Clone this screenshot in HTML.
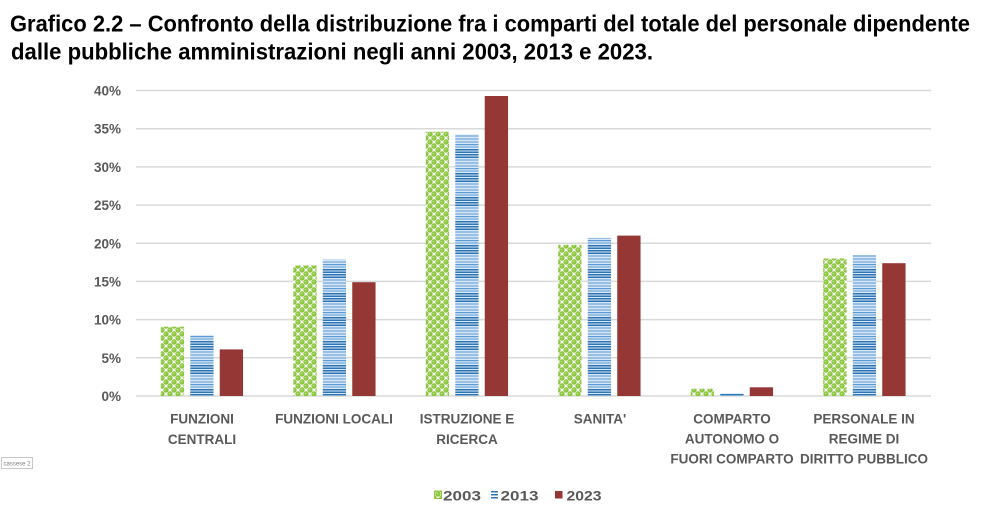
<!DOCTYPE html>
<html>
<head>
<meta charset="utf-8">
<style>
  html, body { margin:0; padding:0; background:#ffffff; }
  body { width:993px; height:518px; overflow:hidden; }
  svg { display:block; }
  .t { font-family:"Liberation Sans", Arial, sans-serif; font-weight:bold; }
</style>
</head>
<body>
<svg width="993" height="518" viewBox="0 0 993 518" xmlns="http://www.w3.org/2000/svg">
  <defs>
    <pattern id="pg" patternUnits="userSpaceOnUse" width="8" height="8">
      <rect width="8" height="8" fill="#ffffff"/>
      <circle cx="2" cy="2" r="2.7" fill="#8cc63f"/>
      <circle cx="6" cy="6" r="2.7" fill="#8cc63f"/>
      <circle cx="10" cy="2" r="2.7" fill="#8cc63f"/>
      <circle cx="-2" cy="6" r="2.7" fill="#8cc63f"/>
      <circle cx="2" cy="10" r="2.7" fill="#8cc63f"/>
      <circle cx="6" cy="-2" r="2.7" fill="#8cc63f"/>
      <circle cx="1.5" cy="1.5" r="0.9" fill="#b9e08a"/>
      <circle cx="5.5" cy="5.5" r="0.9" fill="#b9e08a"/>
    </pattern>
    <pattern id="pb" patternUnits="userSpaceOnUse" width="30" height="24">
      <rect width="30" height="24" fill="#d6e6f5"/>
      <rect y="0" width="30" height="1.2" fill="#5b9bd5"/>
      <rect y="2.5" width="30" height="1" fill="#5b9bd5"/>
      <rect y="5" width="30" height="1.5" fill="#2e75b6"/>
      <rect y="7.5" width="30" height="1.5" fill="#2e75b6"/>
      <rect y="10" width="30" height="1.5" fill="#2e75b6"/>
      <rect y="12.5" width="30" height="1.5" fill="#2e75b6"/>
      <rect y="15.5" width="30" height="1" fill="#5b9bd5"/>
      <rect y="18.5" width="30" height="1" fill="#5b9bd5"/>
      <rect y="21.5" width="30" height="1" fill="#5b9bd5"/>
    </pattern>
  </defs>

  <!-- Title -->
  <text class="t" x="10" y="31.5" font-size="23" fill="#000" textLength="960" lengthAdjust="spacingAndGlyphs">Grafico 2.2 – Confronto della distribuzione fra i comparti del totale del personale dipendente</text>
  <text class="t" x="11" y="59.5" font-size="23" fill="#000" textLength="642" lengthAdjust="spacingAndGlyphs">dalle pubbliche amministrazioni negli anni 2003, 2013 e 2023.</text>

  <!-- Gridlines -->
  <g stroke="#d9d9d9" stroke-width="1.5">
    <line x1="136" y1="90.5" x2="931" y2="90.5"/>
    <line x1="136" y1="128.7" x2="931" y2="128.7"/>
    <line x1="136" y1="166.9" x2="931" y2="166.9"/>
    <line x1="136" y1="205.1" x2="931" y2="205.1"/>
    <line x1="136" y1="243.3" x2="931" y2="243.3"/>
    <line x1="136" y1="281.4" x2="931" y2="281.4"/>
    <line x1="136" y1="319.6" x2="931" y2="319.6"/>
    <line x1="136" y1="357.8" x2="931" y2="357.8"/>
    <line x1="136" y1="396" x2="931" y2="396"/>
  </g>

  <!-- Y labels -->
  <g class="t" font-size="13.5" fill="#595959" text-anchor="end">
    <text x="121" y="95.5">40%</text>
    <text x="121" y="133.7">35%</text>
    <text x="121" y="171.9">30%</text>
    <text x="121" y="210.1">25%</text>
    <text x="121" y="248.3">20%</text>
    <text x="121" y="286.4">15%</text>
    <text x="121" y="324.6">10%</text>
    <text x="121" y="362.8">5%</text>
    <text x="121" y="401">0%</text>
  </g>

  <!-- Group 1 -->
  <rect x="160.75" y="326.7" width="23.3" height="69.3" fill="url(#pg)"/>
  <rect x="190.25" y="334.9" width="23.3" height="61.1" fill="url(#pb)"/>
  <rect x="219.75" y="349.4" width="23.3" height="46.6" fill="#943735"/>
  <!-- Group 2 -->
  <rect x="293.25" y="265.4" width="23.3" height="130.6" fill="url(#pg)"/>
  <rect x="322.75" y="259.3" width="23.3" height="136.7" fill="url(#pb)"/>
  <rect x="352.25" y="282.2" width="23.3" height="113.8" fill="#943735"/>
  <!-- Group 3 -->
  <rect x="425.75" y="131.7" width="23.3" height="264.3" fill="url(#pg)"/>
  <rect x="455.25" y="134.4" width="23.3" height="261.6" fill="url(#pb)"/>
  <rect x="484.75" y="96" width="23.3" height="300" fill="#943735"/>
  <!-- Group 4 -->
  <rect x="558.25" y="244.8" width="23.3" height="151.2" fill="url(#pg)"/>
  <rect x="587.75" y="237.9" width="23.3" height="158.1" fill="url(#pb)"/>
  <rect x="617.25" y="235.6" width="23.3" height="160.4" fill="#943735"/>
  <!-- Group 5 -->
  <rect x="690.75" y="388.7" width="23.3" height="7.3" fill="url(#pg)"/>
  <rect x="720.25" y="393.3" width="23.3" height="2.7" fill="url(#pb)"/>
  <rect x="749.75" y="387.3" width="23.3" height="8.7" fill="#943735"/>
  <!-- Group 6 -->
  <rect x="823.25" y="258.5" width="23.3" height="137.5" fill="url(#pg)"/>
  <rect x="852.75" y="255" width="23.3" height="141" fill="url(#pb)"/>
  <rect x="882.25" y="263.2" width="23.3" height="132.8" fill="#943735"/>

  <!-- Category labels -->
  <g class="t" font-size="13.5" fill="#595959" text-anchor="middle">
    <text x="202" y="423.5">FUNZIONI</text>
    <text x="202" y="444">CENTRALI</text>
    <text x="334" y="423.5">FUNZIONI LOCALI</text>
    <text x="467" y="423.5">ISTRUZIONE E</text>
    <text x="467" y="444">RICERCA</text>
    <text x="600" y="423.5">SANITA'</text>
    <text x="732" y="423.5">COMPARTO</text>
    <text x="732" y="443.5">AUTONOMO O</text>
    <text x="732" y="463.5">FUORI COMPARTO</text>
    <text x="864" y="423.5">PERSONALE IN</text>
    <text x="864" y="443.5">REGIME DI</text>
    <text x="864" y="463.5">DIRITTO PUBBLICO</text>
  </g>

  <!-- Legend -->
  <rect x="434.5" y="491" width="7" height="7.5" fill="url(#pg)" stroke="#8cc63f" stroke-width="1"/>
  <text class="t" x="443" y="500.5" font-size="14" fill="#595959" textLength="38" lengthAdjust="spacingAndGlyphs">2003</text>
  <g fill="#2e75b6">
    <rect x="491" y="491" width="7" height="1.5"/>
    <rect x="491" y="494" width="7" height="1.5"/>
    <rect x="491" y="497" width="7" height="1.5"/>
  </g>
  <text class="t" x="500.5" y="500.5" font-size="14" fill="#595959" textLength="38" lengthAdjust="spacingAndGlyphs">2013</text>
  <rect x="555" y="491" width="7.5" height="7.5" fill="#943735"/>
  <text class="t" x="566.5" y="500.5" font-size="14" fill="#595959" textLength="35" lengthAdjust="spacingAndGlyphs">2023</text>

  <!-- small tag -->
  <rect x="1.5" y="457.5" width="31" height="11" fill="#ffffff" stroke="#c8c8c8" stroke-width="1"/>
  <text x="17" y="465.5" font-family="Liberation Sans, Arial, sans-serif" font-size="6" fill="#808080" text-anchor="middle">cassese 2</text>
</svg>
</body>
</html>
